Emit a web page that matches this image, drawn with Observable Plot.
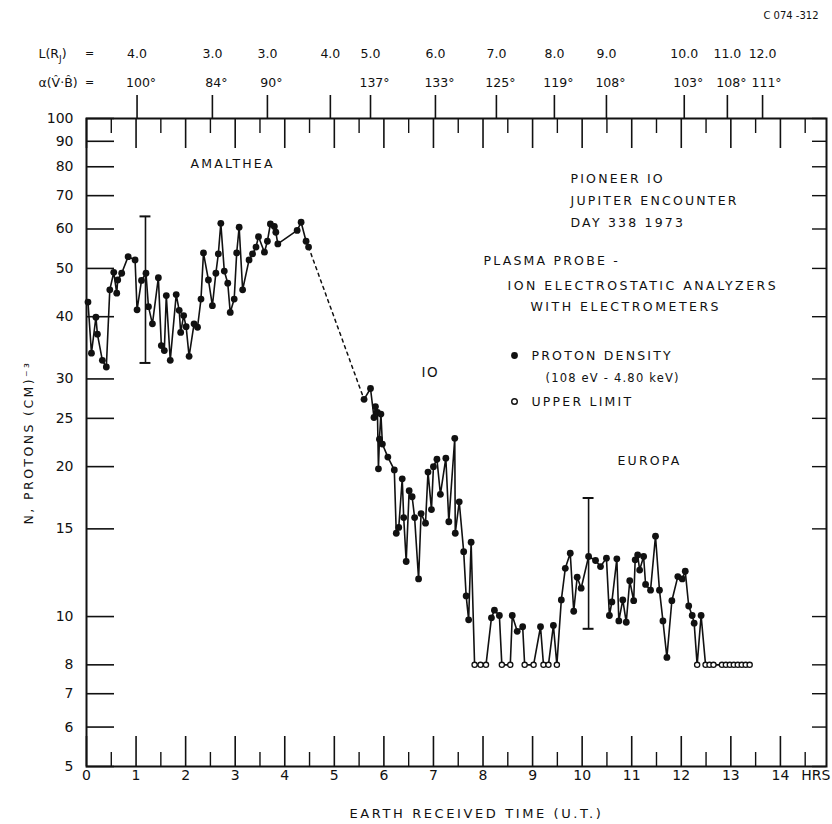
<!DOCTYPE html>
<html>
<head>
<meta charset="utf-8">
<script src="https://cdn.jsdelivr.net/npm/d3@7"></script>
<script src="https://cdn.jsdelivr.net/npm/@observablehq/plot@0.6"></script>
<style>
  html, body { margin: 0; padding: 0; background: #fff; }
  #chart svg { display: block; }
</style>
</head>
<body>
<div id="chart"></div>
<script>
// ---- data ----
// time (hours, Earth received time), proton density (cm^-3), kind: "d" = measured, "u" = upper limit
const times = [
  0.03, 0.10, 0.19, 0.22, 0.32, 0.40, 0.47, 0.55, 0.61, 0.63, 0.71, 0.84, 0.98, 1.02, 1.11, 1.20,
  1.25, 1.33, 1.45, 1.51, 1.57, 1.61, 1.69, 1.81, 1.87, 1.90, 1.96, 2.01, 2.07, 2.17, 2.24, 2.31,
  2.36, 2.46, 2.54, 2.61, 2.66, 2.71, 2.78, 2.85, 2.90, 2.98, 3.03, 3.08, 3.15, 3.28, 3.35, 3.42,
  3.47, 3.59, 3.65, 3.71, 3.79, 3.82, 3.86, 4.25, 4.33, 4.43, 4.48,
  5.60, 5.73, 5.80, 5.83, 5.87, 5.89, 5.91, 5.94, 5.97, 6.08, 6.21, 6.25, 6.30, 6.37, 6.40, 6.45,
  6.51, 6.57, 6.62, 6.70, 6.75, 6.84, 6.89, 6.96, 7.00, 7.07, 7.14, 7.25, 7.31, 7.43, 7.44, 7.52,
  7.61, 7.66, 7.71, 7.76, 7.83, 7.95, 8.06, 8.17, 8.23, 8.33, 8.38, 8.55, 8.59, 8.69, 8.80, 8.84,
  9.02, 9.16, 9.22, 9.32, 9.42, 9.49, 9.58, 9.66, 9.76, 9.83, 9.90, 9.98, 10.13, 10.27, 10.37, 10.49,
  10.55, 10.60, 10.70, 10.74, 10.82, 10.89, 10.96, 11.04, 11.07, 11.12, 11.16, 11.24, 11.28, 11.38, 11.48, 11.56,
  11.63, 11.71, 11.81, 11.93, 12.02, 12.08, 12.15, 12.22, 12.26, 12.32, 12.40, 12.49, 12.57, 12.65, 12.82, 12.90,
  12.98, 13.06, 13.14, 13.22, 13.30, 13.38
];
const density = [
  42.8, 33.8, 39.9, 36.9, 32.7, 31.7, 45.3, 49.1, 44.6, 47.4, 48.9, 52.8, 52.0, 41.3, 47.3, 48.9,
  41.9, 38.7, 47.9, 35.0, 34.2, 44.1, 32.7, 44.3, 41.2, 37.2, 40.2, 38.2, 33.3, 38.7, 38.1, 43.4,
  53.7, 47.4, 42.1, 48.9, 53.5, 61.6, 49.4, 46.7, 40.8, 43.4, 53.7, 60.5, 45.3, 52.0, 53.5, 55.2,
  57.9, 53.9, 56.7, 61.4, 60.7, 59.1, 56.0, 59.6, 61.9, 56.7, 55.2,
  27.3, 28.7, 25.1, 26.4, 25.7, 19.8, 22.7, 25.5, 22.2, 20.9, 19.7, 14.7, 15.1, 18.9, 15.8, 12.9,
  17.9, 17.4, 15.8, 11.9, 16.1, 15.4, 19.5, 16.4, 20.0, 20.7, 17.6, 20.8, 15.5, 22.8, 14.7, 17.0,
  13.5, 11.0, 9.85, 14.1, 8.0, 8.0, 8.0, 9.94, 10.3, 10.05, 8.0, 8.0, 10.05, 9.34, 9.54, 8.0,
  8.0, 9.54, 8.0, 8.0, 9.6, 8.0, 10.8, 12.5, 13.4, 10.25, 12.0, 11.4, 13.2, 12.96, 12.6, 13.1,
  10.05, 10.7, 13.06, 9.8, 10.8, 9.74, 11.8, 10.76, 13.0, 13.3, 12.4, 13.2, 11.6, 11.3, 14.5, 11.3,
  9.8, 8.28, 10.76, 12.03, 11.9, 12.33, 10.5, 10.05, 9.7, 8.0, 10.05, 8.0, 8.0, 8.0, 8.0, 8.0,
  8.0, 8.0, 8.0, 8.0, 8.0, 8.0
];
const kinds = [
  "d","d","d","d","d","d","d","d","d","d","d","d","d","d","d","d",
  "d","d","d","d","d","d","d","d","d","d","d","d","d","d","d","d",
  "d","d","d","d","d","d","d","d","d","d","d","d","d","d","d","d",
  "d","d","d","d","d","d","d","d","d","d","d",
  "d","d","d","d","d","d","d","d","d","d","d","d","d","d","d","d",
  "d","d","d","d","d","d","d","d","d","d","d","d","d","d","d","d",
  "d","d","d","d","u","u","u","d","d","d","u","u","d","d","d","u",
  "u","d","u","u","d","u","d","d","d","d","d","d","d","d","d","d",
  "d","d","d","d","d","d","d","d","d","d","d","d","d","d","d","d",
  "d","d","d","d","d","d","d","d","d","u","d","u","u","u","u","u",
  "u","u","u","u","u","u"
];
// dashed interpolation across the data gap
const gapTimes = [4.48, 5.60];
const gapDensity = [55.2, 27.3];
// error bars
const errTimes = [1.19, 10.13];
const errLow = [32.3, 9.45];
const errHigh = [63.6, 17.3];
// top annotation scale: L shell and angle alpha(V,B)
const topTimes = [1.02, 2.54, 3.65, 4.92, 5.73, 7.04, 8.27, 9.44, 10.49, 12.06, 12.93, 13.64];
const lShell = ["4.0", "3.0", "3.0", "4.0", "5.0", "6.0", "7.0", "8.0", "9.0", "10.0", "11.0", "12.0"];
const alphaAngle = ["100°", "84°", "90°", "", "137°", "133°", "125°", "119°", "108°", "103°", "108°", "111°"];
// axis ticks
const xTicks = [0, 1, 2, 3, 4, 5, 6, 7, 8, 9, 10, 11, 12, 13, 14];
const xHalfTicks = [0.5, 1.5, 2.5, 3.5, 4.5, 5.5, 6.5, 7.5, 8.5, 9.5, 10.5, 11.5, 12.5, 13.5, 14.5];
const yTicks = [5, 6, 7, 8, 10, 15, 20, 25, 30, 40, 50, 60, 70, 80, 90, 100];

// ---- build tables ----
const rows = times.map((t, i) => ({t, v: density[i], upper: kinds[i] === "u", seg: t < 5 ? 0 : 1}));
const gapRows = gapTimes.map((t, i) => ({t, v: gapDensity[i]}));
const errRows = errTimes.map((t, i) => ({t, lo: errLow[i], hi: errHigh[i]}));
const topRows = topTimes.map((t, i) => ({t, L: lShell[i], a: alphaAngle[i]}));

// ---- layout ----
const W = 832, H = 824;
const mTop = 118, mRight = 6, mBottom = 58, mLeft = 86;
const frameH = H - mTop - mBottom;
const frameW = W - mLeft - mRight;
const ink = "#111";
const font = "DejaVu Sans";

const spaced = new Map(); // text -> letter spacing (applied after rendering)
const note = (txt, dx, dy, extra = {}, ls = 2.2) => {
  spaced.set(txt, ls);
  return Plot.text([txt], {text: d => d, frameAnchor: "top-left", textAnchor: "start", lineAnchor: "middle",
    dx, dy, fontSize: 12.5, fill: ink, ...extra});
};

const chart = Plot.plot({
  width: W,
  height: H,
  marginTop: mTop, marginRight: mRight, marginBottom: mBottom, marginLeft: mLeft,
  style: {fontFamily: font, fontSize: "14px", color: ink, background: "#fff"},
  x: {domain: [0, 14.93], ticks: xTicks, tickSize: 0, tickPadding: 4, tickFormat: d => String(d), label: null},
  y: {type: "log", domain: [5, 100], axis: null},
  marks: [
    Plot.frame({stroke: ink, strokeWidth: 2}),
    // inward ticks: bottom
    Plot.tickX(xTicks, {x: d => d, insetTop: frameH - 30, stroke: ink, strokeWidth: 1.6}),
    Plot.tickX(xHalfTicks, {x: d => d, insetTop: frameH - 14, stroke: ink, strokeWidth: 1.4}),
    // inward ticks: top
    Plot.tickX(xTicks, {x: d => d, insetBottom: frameH - 30, stroke: ink, strokeWidth: 1.6}),
    Plot.tickX(xHalfTicks, {x: d => d, insetBottom: frameH - 15, stroke: ink, strokeWidth: 1.4}),
    // outward ticks above the top frame (L / alpha scale)
    Plot.tickX(topRows, {x: "t", insetTop: -23, insetBottom: frameH, stroke: ink, strokeWidth: 1.6}),
    // y ticks left and right
    Plot.tickY(yTicks, {y: d => d, insetRight: frameW - 28, stroke: ink, strokeWidth: 1.6}),
    Plot.tickY(yTicks, {y: d => d, insetLeft: frameW - 14, stroke: ink, strokeWidth: 1.4}),
    // y tick labels
    Plot.text(yTicks, {y: d => d, text: d => String(d), frameAnchor: "left", textAnchor: "end", lineAnchor: "middle", dx: -13, fontSize: 14, fill: ink}),
    // top scale labels
    Plot.text(topRows, {x: "t", text: "L", frameAnchor: "top", dy: -65, lineAnchor: "middle", fontSize: 12.5, fill: ink}),
    Plot.text(topRows, {x: "t", text: "a", frameAnchor: "top", dy: -36, dx: 4, lineAnchor: "middle", fontSize: 12.5, fill: ink}),
    Plot.text(["L(RJ)"], {text: d => d, frameAnchor: "top-left", textAnchor: "start", lineAnchor: "middle", dx: -48, dy: -65, fontSize: 12.5, fill: ink}),
    Plot.text(["α(V̂·B̂)"], {text: d => d, frameAnchor: "top-left", textAnchor: "start", lineAnchor: "middle", dx: -48, dy: -36, fontSize: 12.5, fill: ink}),
    Plot.text(["="], {text: d => d, frameAnchor: "top-left", textAnchor: "middle", lineAnchor: "middle", dx: 3, dy: -65, fontSize: 11, fill: ink}),
    Plot.text(["="], {text: d => d, frameAnchor: "top-left", textAnchor: "middle", lineAnchor: "middle", dx: 3, dy: -36, fontSize: 11, fill: ink}),
    // error bars
    Plot.ruleX(errRows, {x: "t", y1: "lo", y2: "hi", stroke: ink, strokeWidth: 1.6}),
    Plot.ruleY(errRows, {y: "lo", x1: d => d.t - 0.11, x2: d => d.t + 0.11, stroke: ink, strokeWidth: 2}),
    Plot.ruleY(errRows, {y: "hi", x1: d => d.t - 0.11, x2: d => d.t + 0.11, stroke: ink, strokeWidth: 2}),
    // data
    Plot.line(gapRows, {x: "t", y: "v", stroke: ink, strokeWidth: 1.5, strokeDasharray: "3,4"}),
    Plot.line(rows, {x: "t", y: "v", z: "seg", stroke: ink, strokeWidth: 1.6, curve: "linear"}),
    Plot.dot(rows.filter(d => !d.upper), {x: "t", y: "v", r: 3.4, fill: ink, stroke: null}),
    Plot.dot(rows.filter(d => d.upper), {x: "t", y: "v", r: 2.6, fill: "#fff", stroke: ink, strokeWidth: 1.3}),
    // annotations
    note("AMALTHEA", 104, 45),
    note("PIONEER IO", 484, 60),
    note("JUPITER ENCOUNTER", 484, 82),
    note("DAY 338 1973", 484, 104),
    note("PLASMA PROBE -", 397, 142),
    note("ION ELECTROSTATIC ANALYZERS", 421, 167, {}, 2.5),
    note("WITH ELECTROMETERS", 444, 188, {}, 2.5),
    note("PROTON DENSITY", 445, 237),
    note("(108 eV - 4.80 keV)", 459, 260, {fontSize: 11.5}, 1.2),
    note("UPPER LIMIT", 445, 283),
    note("IO", 335, 254, {fontSize: 13.5}, 1.5),
    note("EUROPA", 531, 342),
    Plot.dot(["d"], {frameAnchor: "top-left", dx: 428, dy: 237, r: 3.4, fill: ink, stroke: null}),
    Plot.dot(["u"], {frameAnchor: "top-left", dx: 428, dy: 283, r: 2.8, fill: "#fff", stroke: ink, strokeWidth: 1.4}),
    // axis titles and extra labels
    Plot.text(["HRS"], {text: d => d, frameAnchor: "bottom-right", textAnchor: "end", lineAnchor: "top", dx: 4, dy: 4, fontSize: 14, fill: ink}),
    note("EARTH RECEIVED TIME (U.T.)", 0, 0, {frameAnchor: "bottom", textAnchor: "middle", dx: 20, dy: 47, fontSize: 13}, 2.6),
    note("N, PROTONS (CM)⁻³", 0, 0, {frameAnchor: "left", textAnchor: "middle", rotate: -90, dx: -58, dy: 0, fontSize: 12.5}, 2.4),
    Plot.text(["C 074 -312"], {text: d => d, frameAnchor: "top-right", textAnchor: "end", lineAnchor: "middle", dx: -8, dy: -103, fontSize: 10, fill: ink})
  ]
});

document.getElementById("chart").appendChild(chart);

const svg = d3.select(chart);
// letter spacing of the stencil-style annotations
svg.selectAll("text").each(function () {
  const ls = spaced.get(this.textContent);
  if (ls != null) this.style.letterSpacing = ls + "px";
});
// subscript J in L(R_J)
svg.selectAll("text").filter(function () { return this.textContent === "L(RJ)"; }).each(function () {
  const t = d3.select(this);
  t.text(null);
  t.append("tspan").text("L(R");
  t.append("tspan").attr("font-size", "9px").attr("dy", "4").text("J");
  t.append("tspan").attr("dy", "-4").text(")");
});
</script>
</body>
</html>
